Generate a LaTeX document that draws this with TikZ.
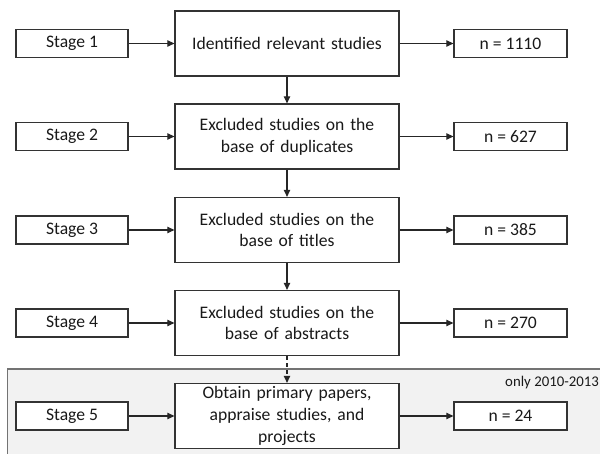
\documentclass[tikz,border=0pt]{standalone}
\usepackage{fontspec}
\setmainfont{Carlito}
\usetikzlibrary{arrows.meta}
\begin{document}
\begin{tikzpicture}[x=1pt,y=-1pt,
  every node/.style={font=\fontsize{17.6pt}{21.7pt}\selectfont, text=black!90},
  box/.style={draw=black!80, line width=1.3pt, fill=white, inner sep=0pt, align=center},
  stagebox/.style={box, minimum width=112pt, minimum height=28pt},
  mainbox/.style={box, minimum width=224pt, minimum height=65pt, text width=215pt},
  countbox/.style={box, minimum width=113pt, minimum height=28pt},
  conn/.style={draw=black!85, line width=1.2pt, -{Triangle[length=7pt,width=6.5pt]}}
]
\useasboundingbox (0,0) rectangle (600,454);
% grey region
\fill[black!5] (7.5,369) rectangle (620,470);
\draw[black!55, line width=1.2pt] (620,369) -- (7.5,369) -- (7.5,470);
\node[anchor=east, inner sep=0pt, font=\fontsize{14.8pt}{17pt}\selectfont] (note) at (599,383) {only 2010-2013};

% rows
\node[stagebox] (s1) at (72,43.5) {Stage 1};
\node[mainbox]  (m1) at (287,43.5) {Identified relevant studies};
\node[countbox] (c1) at (510.5,43.5) {n = 1110};

\node[stagebox] (s2) at (72,136.5) {Stage 2};
\node[mainbox]  (m2) at (287,136.5) {Excluded studies on the\\base of duplicates};
\node[countbox] (c2) at (510.5,136.5) {n = 627};

\node[stagebox] (s3) at (72,230) {Stage 3};
\node[mainbox]  (m3) at (287,230) {Excluded studies on the\\base of titles};
\node[countbox] (c3) at (510.5,230) {n = 385};

\node[stagebox] (s4) at (72,323) {Stage 4};
\node[mainbox]  (m4) at (287,323) {Excluded studies on the\\base of abstracts};
\node[countbox] (c4) at (510.5,323) {n = 270};

\node[stagebox] (s5) at (72,416) {Stage 5};
\node[mainbox]  (m5) at (287,416) {Obtain primary papers,\\appraise studies, and\\projects};
\node[countbox] (c5) at (510.5,416) {n = 24};

% connectors
\foreach \i in {1,...,5} {
  \draw[conn] (s\i) -- (m\i);
  \draw[conn] (m\i) -- (c\i);
}
\draw[conn] (m1) -- (m2);
\draw[conn] (m2) -- (m3);
\draw[conn] (m3) -- (m4);
\draw[conn, dashed, dash pattern=on 4pt off 3pt] (m4) -- (m5);
\end{tikzpicture}
\end{document}
